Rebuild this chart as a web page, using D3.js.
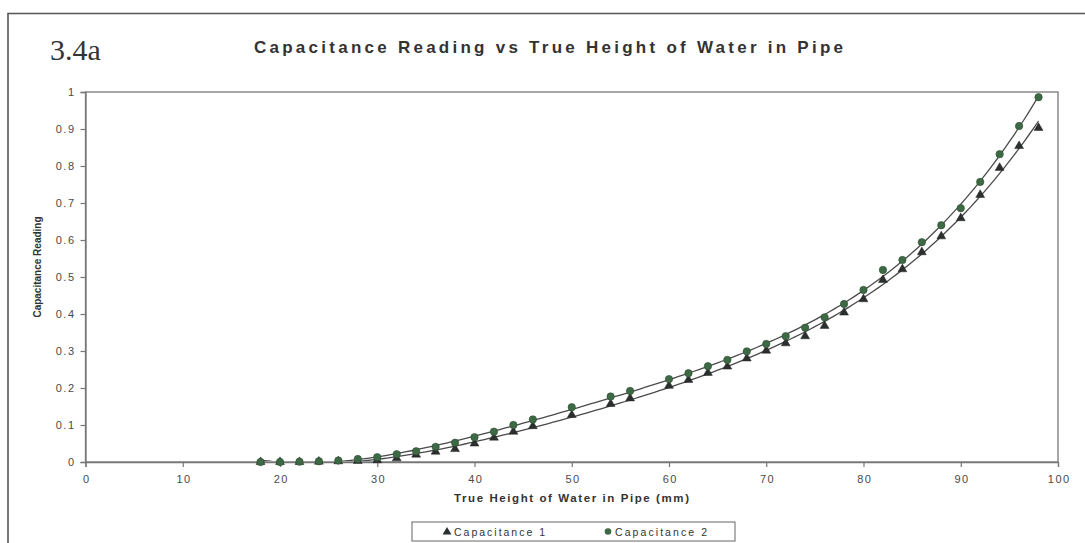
<!DOCTYPE html>
<html>
<head>
<meta charset="utf-8">
<script src="https://cdn.jsdelivr.net/npm/d3@7/dist/d3.min.js"></script>
<style>
  html, body { margin: 0; padding: 0; background: #fff; }
  svg { display: block; }
</style>
</head>
<body>
<svg id="chart" width="1085" height="543"></svg>
<script>
// Water height in the pipe (mm) and the two capacitance readings
const heights = [18,20,22,24,26,28,30,32,34,36,38,40,42,44,46,50,54,56,60,62,64,66,68,70,72,74,76,78,80,82,84,86,88,90,92,94,96,98];
const capacitance1 = [0,0,0,0.001,0.002,0.003,0.005,0.01,0.02,0.028,0.035,0.05,0.066,0.082,0.097,0.127,0.157,0.172,0.206,0.222,0.241,0.258,0.28,0.301,0.321,0.34,0.368,0.404,0.44,0.492,0.521,0.567,0.61,0.659,0.722,0.795,0.854,0.903];
const capacitance2 = [0,0,0.001,0.002,0.004,0.008,0.013,0.021,0.029,0.041,0.052,0.067,0.082,0.1,0.115,0.148,0.177,0.192,0.224,0.24,0.259,0.276,0.299,0.319,0.34,0.363,0.391,0.427,0.465,0.519,0.546,0.594,0.64,0.686,0.757,0.832,0.908,0.986];
const xTicks = [0,10,20,30,40,50,60,70,80,90,100];
const yTicks = [0,0.1,0.2,0.3,0.4,0.5,0.6,0.7,0.8,0.9,1];
const seriesNames = ["Capacitance 1", "Capacitance 2"];
const chartTitle = "Capacitance Reading vs True Height of Water in Pipe";
const figureLabel = "3.4a";
const xTitle = "True Height of Water in Pipe (mm)";
const yTitle = "Capacitance Reading";

const svg = d3.select("#chart");
const plot = { left: 85.5, right: 1058, top: 92, bottom: 462 };

const x = d3.scaleLinear().domain([0, 100]).range([plot.left, plot.right]);
const y = d3.scaleLinear().domain([0, 1]).range([plot.bottom, plot.top]);

// Outer frame (top and left edges visible)
svg.append("path")
  .attr("d", "M8,543 V13.5 H1085")
  .attr("fill", "none").attr("stroke", "#555").attr("stroke-width", 1.6);

// Figure label and title
svg.append("text").attr("x", 50).attr("y", 60)
  .attr("font-family", "Liberation Serif, Times New Roman, serif")
  .attr("font-size", 30).attr("fill", "#333").text(figureLabel);

svg.append("text").attr("x", 254).attr("y", 53)
  .attr("font-family", "Liberation Sans, Arial, sans-serif")
  .attr("font-weight", "bold").attr("font-size", 17).attr("fill", "#333")
  .attr("textLength", 589).attr("lengthAdjust", "spacing")
  .text(chartTitle);

// Plot area box
svg.append("rect")
  .attr("x", plot.left).attr("y", plot.top)
  .attr("width", plot.right - plot.left).attr("height", plot.bottom - plot.top)
  .attr("fill", "#fff").attr("stroke", "#777").attr("stroke-width", 1.3);

// Axes
const xAxis = svg.append("g").attr("transform", `translate(0,${plot.bottom})`)
  .call(d3.axisBottom(x).tickValues(xTicks).tickSize(5).tickPadding(8).tickFormat(d3.format("d")));
const yAxis = svg.append("g").attr("transform", `translate(${plot.left},0)`)
  .call(d3.axisLeft(y).tickValues(yTicks).tickSize(5).tickPadding(5).tickFormat(d => d === 0 || d === 1 ? d3.format("d")(d) : d3.format(".1f")(d)));

[xAxis, yAxis].forEach(g => {
  g.select(".domain").attr("stroke", "#777").attr("stroke-width", 1.3);
  g.selectAll(".tick line").attr("stroke", "#777").attr("stroke-width", 1.2);
  g.selectAll(".tick text")
    .attr("font-family", "Liberation Sans, Arial, sans-serif")
    .attr("font-size", 11).attr("fill", "#4a4a4a")
    .attr("letter-spacing", "1.5px");
});
xAxis.selectAll(".tick text").attr("dx", "0.75px");

// Axis titles
svg.append("text").attr("x", 454).attr("y", 502)
  .attr("font-family", "Liberation Sans, Arial, sans-serif")
  .attr("font-weight", "bold").attr("font-size", 11.5).attr("fill", "#333")
  .attr("textLength", 235).attr("lengthAdjust", "spacing")
  .text(xTitle);

svg.append("text")
  .attr("transform", `translate(41,${(plot.top + plot.bottom) / 2 - 10}) rotate(-90)`)
  .attr("text-anchor", "middle")
  .attr("font-family", "Liberation Sans, Arial, sans-serif")
  .attr("font-weight", "bold").attr("font-size", 10).attr("fill", "#333")
  .text(yTitle);

// Least-squares polynomial trendline for each series
function polyFit(xs, ys, degree) {
  const n = degree + 1;
  const A = Array.from({ length: n }, () => new Array(n + 1).fill(0));
  xs.forEach((xv, i) => {
    const t = xv / 100;
    for (let r = 0; r < n; r++) {
      for (let c = 0; c < n; c++) A[r][c] += Math.pow(t, r + c);
      A[r][n] += Math.pow(t, r) * ys[i];
    }
  });
  for (let p = 0; p < n; p++) {
    let best = p;
    for (let r = p + 1; r < n; r++) if (Math.abs(A[r][p]) > Math.abs(A[best][p])) best = r;
    [A[p], A[best]] = [A[best], A[p]];
    for (let r = 0; r < n; r++) {
      if (r === p) continue;
      const f = A[r][p] / A[p][p];
      for (let c = p; c <= n; c++) A[r][c] -= f * A[p][c];
    }
  }
  const coef = A.map((row, i) => row[n] / row[i]);
  return xv => coef.reduce((s, k, i) => s + k * Math.pow(xv / 100, i), 0);
}

svg.append("clipPath").attr("id", "plotClip")
  .append("rect")
  .attr("x", plot.left).attr("y", plot.top - 2)
  .attr("width", plot.right - plot.left).attr("height", plot.bottom - plot.top + 1);

const line = d3.line().x(d => x(d[0])).y(d => y(d[1])).curve(d3.curveLinear);
const start = heights[0];
const samples = d3.range(0, heights[heights.length - 1] + 0.01, 0.5);

[capacitance1, capacitance2].forEach(vals => {
  const f = polyFit(heights, vals, 4);
  // below the first reading the trend rests on the zero baseline
  svg.append("path")
    .datum(samples.map(h => [h, h < start ? 0 : Math.max(f(h), 0)]))
    .attr("clip-path", "url(#plotClip)")
    .attr("fill", "none").attr("stroke", "#4a4a4a").attr("stroke-width", 1.3)
    .attr("d", line);
});

// Markers
const tri = d3.symbol().type(d3.symbolTriangle).size(34);
svg.append("g").selectAll("path")
  .data(heights.map((h, i) => [h, capacitance1[i]]))
  .join("path")
  .attr("transform", d => `translate(${x(d[0])},${y(d[1])})`)
  .attr("d", tri)
  .attr("fill", "#2b2f2e").attr("stroke", "#222").attr("stroke-width", 0.5);

svg.append("g").selectAll("circle")
  .data(heights.map((h, i) => [h, capacitance2[i]]))
  .join("circle")
  .attr("cx", d => x(d[0])).attr("cy", d => y(d[1])).attr("r", 3.7)
  .attr("fill", "#3d6a44").attr("stroke", "#2c4d31").attr("stroke-width", 0.6);

// Legend
const legend = svg.append("g");
legend.append("rect").attr("x", 412).attr("y", 522).attr("width", 323).attr("height", 19)
  .attr("fill", "#fff").attr("stroke", "#666").attr("stroke-width", 1);
legend.append("path").attr("transform", "translate(447,532)").attr("d", tri)
  .attr("fill", "#2b2f2e");
legend.append("text").attr("x", 454).attr("y", 535.5)
  .attr("font-family", "Liberation Sans, Arial, sans-serif").attr("font-size", 10.5).attr("fill", "#333")
  .attr("textLength", 91).attr("lengthAdjust", "spacing").text(seriesNames[0]);
legend.append("circle").attr("cx", 608).attr("cy", 531.5).attr("r", 3.3)
  .attr("fill", "#3d6a44");
legend.append("text").attr("x", 615).attr("y", 535.5)
  .attr("font-family", "Liberation Sans, Arial, sans-serif").attr("font-size", 10.5).attr("fill", "#333")
  .attr("textLength", 92).attr("lengthAdjust", "spacing").text(seriesNames[1]);
</script>
</body>
</html>
